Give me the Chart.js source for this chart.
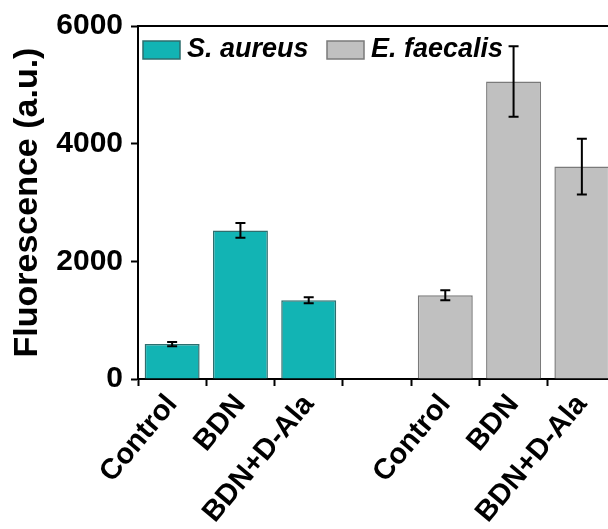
<!DOCTYPE html>
<html>
<head>
<meta charset="utf-8">
<script src="https://cdn.jsdelivr.net/npm/chart.js@4/dist/chart.umd.min.js"></script>
<style>
  html, body { margin: 0; padding: 0; background: #fff; overflow: hidden; }
  #wrap { width: 620px; height: 529px; }
</style>
</head>
<body>
<div id="wrap"><canvas id="c" width="620" height="529"></canvas></div>
<script>
const categories = ['Control', 'BDN', 'BDN+D-Ala', '', 'Control', 'BDN', 'BDN+D-Ala'];
const sAureus = [593, 2525, 1339, null, null, null, null];
const sAureusErr = [35, 125, 50, null, null, null, null];
const eFaecalis = [null, null, null, null, 1424, 5056, 3610];
const eFaecalisErr = [null, null, null, null, 85, 600, 475];
const yTicks = [0, 2000, 4000, 6000];
const seriesNames = ['S. aureus', 'E. faecalis'];

const FONT = "'Liberation Sans', Arial, sans-serif";

const errorBars = {
  id: 'errorBars',
  afterDatasetsDraw(chart) {
    const ctx = chart.ctx;
    const y = chart.scales.y;
    chart.data.datasets.forEach((ds, di) => {
      const meta = chart.getDatasetMeta(di);
      ds.errors.forEach((e, i) => {
        const v = ds.data[i];
        if (v == null || e == null) return;
        const x = meta.data[i].x;
        const yt = y.getPixelForValue(v + e);
        const yb = y.getPixelForValue(v - e);
        ctx.save();
        ctx.strokeStyle = '#000';
        ctx.lineWidth = 2;
        ctx.beginPath();
        ctx.moveTo(x, yt); ctx.lineTo(x, yb);
        ctx.moveTo(x - 5, yt); ctx.lineTo(x + 5, yt);
        ctx.moveTo(x - 5, yb); ctx.lineTo(x + 5, yb);
        ctx.stroke();
        ctx.restore();
      });
    });
  }
};

const frameAndLegend = {
  id: 'frameAndLegend',
  afterDraw(chart) {
    const ctx = chart.ctx;
    const a = chart.chartArea;
    ctx.save();
    ctx.strokeStyle = '#000';
    ctx.lineWidth = 2;
    ctx.beginPath();
    ctx.moveTo(a.left, a.top);
    ctx.lineTo(a.right, a.top);
    ctx.moveTo(a.right, a.top);
    ctx.lineTo(a.right, a.bottom);
    ctx.stroke();
    // legend
    const boxes = [a.left + 5, a.left + 189];
    ctx.font = "italic bold 27px " + FONT;
    ctx.textBaseline = 'middle';
    ctx.textAlign = 'left';
    chart.data.datasets.forEach((ds, i) => {
      const bx = boxes[i], by = a.top + 15;
      ctx.fillStyle = ds.backgroundColor;
      ctx.fillRect(bx, by, 37, 18);
      ctx.strokeStyle = ds.borderColor;
      ctx.lineWidth = 1.5;
      ctx.strokeRect(bx, by, 37, 18);
      ctx.fillStyle = '#000';
      ctx.fillText(ds.label, bx + 44, by + 9);
    });
    ctx.restore();
  }
};

new Chart(document.getElementById('c'), {
  type: 'bar',
  data: {
    labels: categories,
    datasets: [
      {
        label: seriesNames[0],
        data: sAureus,
        errors: sAureusErr,
        backgroundColor: '#12B4B4',
        borderColor: '#2E6E6E',
        borderWidth: 1.5,
        grouped: false,
        barPercentage: 0.805,
        categoryPercentage: 1
      },
      {
        label: seriesNames[1],
        data: eFaecalis,
        errors: eFaecalisErr,
        backgroundColor: '#C0C0C0',
        borderColor: '#7A7A7A',
        borderWidth: 1.5,
        grouped: false,
        barPercentage: 0.805,
        categoryPercentage: 1
      }
    ]
  },
  options: {
    responsive: false,
    animation: false,
    layout: { padding: { top: 25, right: 4, left: 0, bottom: 0 } },
    plugins: { legend: { display: false }, tooltip: { enabled: false } },
    scales: {
      x: {
        afterFit(s) { s.height = 150; },
        grid: { display: true, drawOnChartArea: false, drawTicks: true, tickLength: 7, tickColor: '#000', tickWidth: 2 },
        border: { display: true, color: '#000', width: 2 },
        ticks: {
          autoSkip: false, maxRotation: 50, minRotation: 50, padding: 2,
          color: '#000', font: { family: FONT, size: 29, weight: 'bold' }
        }
      },
      y: {
        min: 0, max: 6000,
        afterFit(s) { s.width = 138; },
        afterBuildTicks(s) { s.ticks = yTicks.map(v => ({ value: v })); },
        grid: { display: true, drawOnChartArea: false, drawTicks: true, tickLength: 7, tickColor: '#000', tickWidth: 2 },
        border: { display: true, color: '#000', width: 2 },
        ticks: {
          padding: 8, color: '#000',
          callback: (v) => String(v),
          font: { family: FONT, size: 30, weight: 'bold' }
        },
        title: {
          display: true, text: 'Fluorescence (a.u.)', color: '#000',
          font: { family: FONT, size: 34, weight: 'bold' },
          padding: { top: 7, bottom: 4 }
        }
      }
    }
  },
  plugins: [errorBars, frameAndLegend]
});
</script>
</body>
</html>
